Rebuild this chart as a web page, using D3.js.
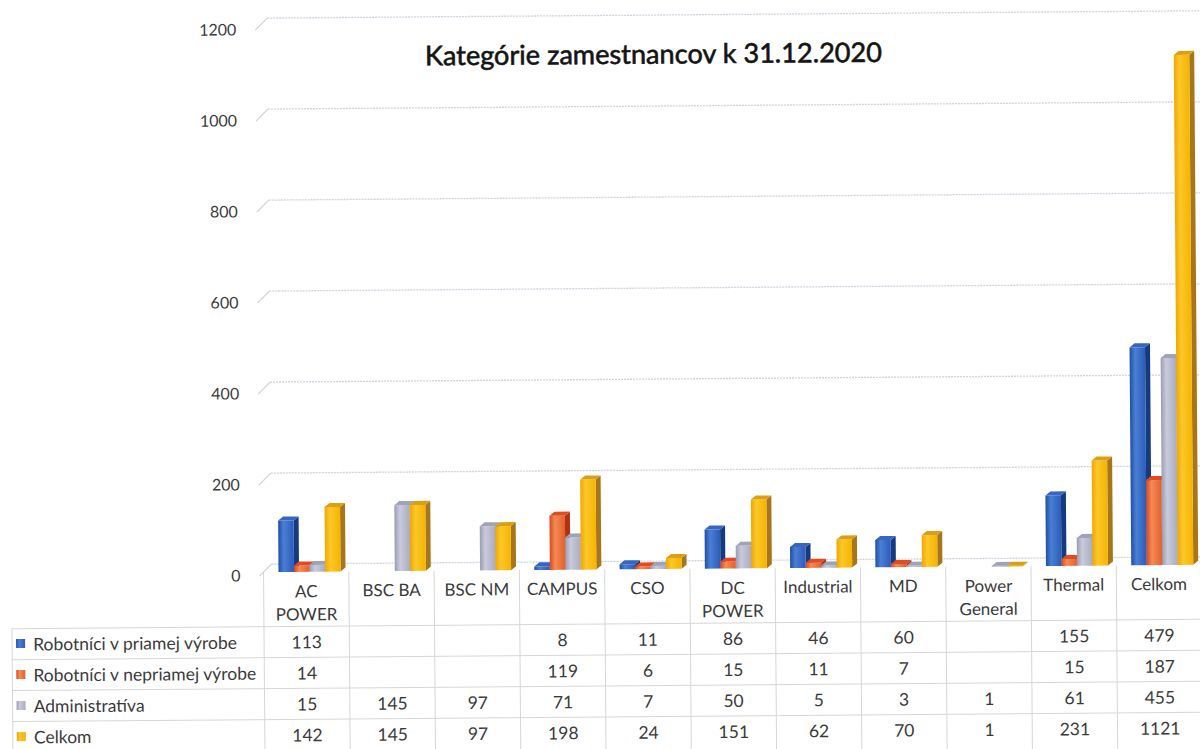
<!DOCTYPE html>
<html>
<head>
<meta charset="utf-8">
<script src="https://cdn.jsdelivr.net/npm/d3@7"></script>
<style>
  html, body { margin: 0; padding: 0; background: #ffffff; }
  svg { display: block; }
  text { font-family: Lato, "Open Sans", sans-serif; fill: #3a3a3a; }
</style>
</head>
<body>
<svg id="chart" width="1200" height="749"></svg>
<script>
// ---- data ----
const title = "Kategórie zamestnancov k 31.12.2020";
const categories = ["AC POWER", "BSC BA", "BSC NM", "CAMPUS", "CSO", "DC POWER", "Industrial", "MD", "Power General", "Thermal", "Celkom"];
const seriesNames = ["Robotníci v priamej výrobe", "Robotníci v nepriamej výrobe", "Administratíva", "Celkom"];
const priamaVyroba   = [113, null, null, 8, 11, 86, 46, 60, null, 155, 479];
const nepriamaVyroba = [14, null, null, 119, 6, 15, 11, 7, null, 15, 187];
const administrativa = [15, 145, 97, 71, 7, 50, 5, 3, 1, 61, 455];
const celkom         = [142, 145, 97, 198, 24, 151, 62, 70, 1, 231, 1121];
const yTicks = [0, 200, 400, 600, 800, 1000, 1200];

const seriesValues = [priamaVyroba, nepriamaVyroba, administrativa, celkom];
const palette = [
  { front: ["#1f4fa8", "#4a7fd4", "#2b5cb8"], side: "#163a80", top: "#3566c2" },
  { front: ["#d9481f", "#f58a55", "#e2602e"], side: "#b2300f", top: "#e24b22" },
  { front: ["#9a9db2", "#c9cbdb", "#a9acc0"], side: "#7a7d92", top: "#9fa3b8" },
  { front: ["#f0a800", "#fcc72a", "#f5b400"], side: "#a8761a", top: "#dba012" }
];

// ---- layout ----
const svg = d3.select("#chart");
const root = svg.append("g").attr("transform", "rotate(-0.45,600,375)");

const x = d3.scaleBand().domain(categories).range([262, 1200]).paddingInner(0).paddingOuter(0);
const s = d3.scaleBand().domain(d3.range(4)).range([15, 77]);
const y = d3.scaleLinear().domain([0, 1200]).range([569.5, 23.5]);
const DX = 5, DY = 4;

// gradients
const defs = svg.append("defs");
palette.forEach((p, i) => {
  const g = defs.append("linearGradient").attr("id", "grad" + i)
    .attr("x1", 0).attr("x2", 1).attr("y1", 0).attr("y2", 0);
  g.append("stop").attr("offset", "0%").attr("stop-color", p.front[0]);
  g.append("stop").attr("offset", "35%").attr("stop-color", p.front[1]);
  g.append("stop").attr("offset", "100%").attr("stop-color", p.front[2]);
});

// gridlines (back wall) + left wall stubs
const grid = root.append("g");
grid.selectAll("line.g").data(yTicks).join("line")
  .attr("x1", 270).attr("x2", 1210)
  .attr("y1", d => y(d) - 8).attr("y2", d => y(d) - 8)
  .attr("stroke", "#d0d2de").attr("stroke-width", 1.3).attr("stroke-dasharray", "2,1");
grid.selectAll("line.s").data(yTicks).join("line")
  .attr("x1", 258).attr("x2", 270)
  .attr("y1", d => y(d) + 4).attr("y2", d => y(d) - 8)
  .attr("stroke", "#cfd1dc").attr("stroke-width", 1.2);

// y axis labels
root.append("g").selectAll("text").data(yTicks).join("text")
  .attr("x", 239).attr("y", d => y(d) + 2.5)
  .attr("text-anchor", "end").attr("dominant-baseline", "central")
  .attr("font-size", 16)
  .text(d => d);

// title
root.append("text")
  .attr("x", 656).attr("y", 64)
  .attr("text-anchor", "middle")
  .attr("font-size", 27)
  .attr("textLength", 457).attr("lengthAdjust", "spacingAndGlyphs")
  .style("fill", "#141414").style("stroke", "#141414").style("stroke-width", 0.6)
  .text(title);

// bars
const bars = root.append("g");
categories.forEach((c, i) => {
  seriesValues.forEach((vals, j) => {
    const v = vals[i];
    if (v == null) return;
    const x0 = x(c) + s(j), w = s.bandwidth();
    const yt = y(v), yb = y(0);
    const g = bars.append("g");
    g.append("polygon")
      .attr("points", [[x0 + w, yt], [x0 + w + DX, yt - DY], [x0 + w + DX, yb - DY], [x0 + w, yb]].join(" "))
      .attr("fill", palette[j].side);
    g.append("rect")
      .attr("x", x0).attr("y", yt).attr("width", w).attr("height", Math.max(0.8, yb - yt))
      .attr("fill", `url(#grad${j})`);
    g.append("polygon")
      .attr("points", [[x0, yt], [x0 + DX, yt - DY], [x0 + w + DX, yt - DY], [x0 + w, yt]].join(" "))
      .attr("fill", palette[j].top);
  });
});

// ---- data table ----
const table = root.append("g");
const rowTops = [624, 655, 686, 717];
const rowH = 31;
const lineCol = "#d6d6d6";
rowTops.forEach(t => {
  table.append("line").attr("x1", 10).attr("x2", 1210).attr("y1", t).attr("y2", t)
    .attr("stroke", lineCol).attr("stroke-width", 1);
});
table.append("line").attr("x1", 10).attr("x2", 10).attr("y1", 624).attr("y2", 760)
  .attr("stroke", lineCol);
const bounds = categories.map(c => x(c)).concat([1200]);
table.selectAll("line.v").data(bounds).join("line")
  .attr("x1", d => d).attr("x2", d => d)
  .attr("y1", y(0)).attr("y2", 760)
  .attr("stroke", lineCol);

// category header labels (wrapped)
const header = table.append("g");
categories.forEach(c => {
  const t = header.append("text")
    .attr("x", x(c) + x.bandwidth() / 2).attr("y", 588)
    .attr("text-anchor", "middle").attr("dominant-baseline", "central")
    .attr("font-size", 17).text(c);
  if (t.node().getComputedTextLength() > 70 && c.includes(" ")) {
    const words = c.split(" ");
    t.text(null);
    words.forEach((wd, k) => {
      t.append("tspan").attr("x", x(c) + x.bandwidth() / 2)
        .attr("y", 588 + k * 23).text(wd);
    });
  }
});

// legend column + values
seriesNames.forEach((name, j) => {
  const cy = rowTops[j] + rowH / 2;
  table.append("rect").attr("x", 14).attr("y", cy - 5).attr("width", 9).attr("height", 9)
    .attr("fill", `url(#grad${j})`);
  table.append("text").attr("x", 31).attr("y", cy)
    .attr("dominant-baseline", "central").attr("font-size", 17.5).text(name);
  table.append("g").selectAll("text").data(seriesValues[j]).join("text")
    .attr("x", (d, i) => x(categories[i]) + x.bandwidth() / 2)
    .attr("y", cy)
    .attr("text-anchor", "middle").attr("dominant-baseline", "central")
    .attr("font-size", 17.5)
    .text(d => d == null ? "" : d);
});
</script>
</body>
</html>
